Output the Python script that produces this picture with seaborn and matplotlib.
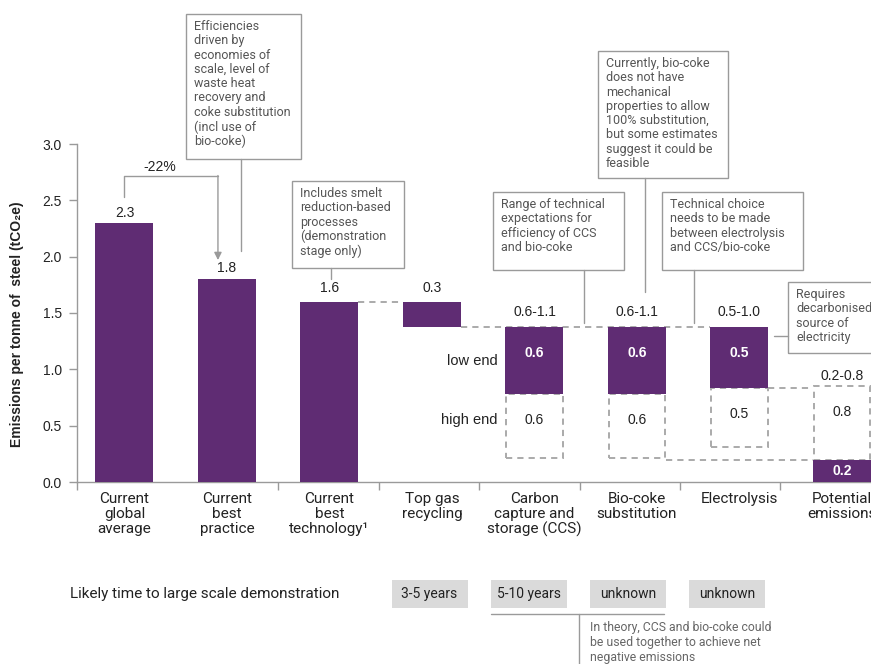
import matplotlib
matplotlib.use("Agg")
import matplotlib.pyplot as plt
from matplotlib.patches import Rectangle
from matplotlib.lines import Line2D
import pandas as pd
import seaborn as sns

# -----------------------------------------------------------
# data
# -----------------------------------------------------------
categories = ["Current\nglobal\naverage", "Current\nbest\npractice",
              "Current\nbest\ntechnology\u00b9", "Top gas\nrecycling",
              "Carbon\ncapture and\nstorage (CCS)", "Bio-coke\nsubstitution",
              "Electrolysis", "Potential\nemissions"]
bar_top = [2.3, 1.8, 1.6, 1.6, 1.375, 1.375, 1.375, 0.195]
bar_bottom = [0.0, 0.0, 0.0, 1.375, 0.78, 0.78, 0.83, 0.0]
top_labels = ["2.3", "1.8", "1.6", "0.3", "0.6-1.1", "0.6-1.1", "0.5-1.0", "0.2-0.8"]
inner_labels = ["", "", "", "", "0.6", "0.6", "0.5", "0.2"]

range_cats = categories[4:]
range_top = [0.78, 0.78, 0.83, 0.85]
range_bottom = [0.215, 0.215, 0.31, 0.195]
range_labels = ["0.6", "0.6", "0.5", "0.8"]

timeline_title = "Likely time to large scale demonstration"
timeline_labels = ["3-5 years", "5-10 years", "unknown", "unknown"]

# -----------------------------------------------------------
# style
# -----------------------------------------------------------
sns.set_theme(style="white")
plt.rcParams["font.family"] = ["Liberation Sans", "DejaVu Sans"]

PURPLE = "#5f2c73"
DASH = "#aaaaaa"
AXIS = "#9a9a9a"
TXT = "#222222"
NOTE = "#555555"
NARROW = ["Roboto", "DejaVu Sans"]
NOTEFONT = ["Roboto", "DejaVu Sans"]

W, H = 871, 664


def fx(x):
    return x / W


def fy(y):
    return 1 - y / H


fig = plt.figure(figsize=(W / 100, H / 100), dpi=100)
ax = fig.add_axes([fx(77), fy(482), fx(871) - fx(77), fy(144) - fy(482)])

BW = 0.566

# solid (purple) bars
solid = pd.DataFrame({"cat": categories,
                      "height": [t - b for t, b in zip(bar_top, bar_bottom)],
                      "bottom": bar_bottom})
sns.barplot(data=solid, x="cat", y="height", order=categories, color=PURPLE,
            saturation=1, width=BW, errorbar=None, bottom=solid["bottom"].values,
            edgecolor="none", linewidth=0, zorder=3, ax=ax)

# dashed range boxes
ranges = pd.DataFrame({"cat": range_cats,
                       "height": [t - b for t, b in zip(range_top, range_bottom)],
                       "bottom": range_bottom})
sns.barplot(data=ranges, x="cat", y="height", order=categories, fill=False,
            color=DASH, width=BW * 0.97, errorbar=None, bottom=ranges["bottom"].values,
            edgecolor=DASH, linewidth=1.4, linestyle=(0, (3.2, 2.6)), zorder=2, ax=ax)

# connector lines
dash_kw = dict(colors=DASH, linestyles=[(0, (3.2, 2.6))], linewidth=1.4, zorder=1)
ax.hlines(bar_top[2], 2 + BW / 2, 3 - BW / 2, **dash_kw)
ax.hlines(bar_bottom[3], 3 + BW / 2, 6 - BW / 2, **dash_kw)
ax.hlines(bar_bottom[6], 6 + BW / 2, 7 - BW / 2, **dash_kw)
ax.hlines(range_bottom[3], 5 + BW / 2, 7 - BW / 2, **dash_kw)

ax.set_xlim(-0.463, 7.283)
ax.set_ylim(0, 3.0)
ax.set_yticks([0, 0.5, 1.0, 1.5, 2.0, 2.5, 3.0])
ax.set_yticklabels([f"{v:.1f}" for v in ax.get_yticks()])
ax.set_xticks([-0.463, 1.5, 2.48, 3.46, 4.44, 5.42, 6.4])
ax.set_xticklabels([])
ax.set_xlabel("")
ax.set_ylabel("")
sns.despine(ax=ax)
for s in ["left", "bottom"]:
    ax.spines[s].set_color(AXIS)
    ax.spines[s].set_linewidth(1)
ax.tick_params(axis="y", length=6, width=1, color=AXIS, direction="out",
               pad=5, labelsize=10, labelcolor=TXT, left=True)
ax.tick_params(axis="x", length=6, width=1, color=AXIS, direction="out", bottom=True)

# category labels
for i, c in enumerate(categories):
    ax.text(i, -0.085, c, ha="center", va="top", fontsize=11, color=TXT,
            family=NARROW, linespacing=1.1, clip_on=False)

# value labels on top
offsets = [2, 3.3, 4.5, 4.5, 6, 6, 6, 2]
for i, lbl in enumerate(top_labels):
    top = bar_top[i]
    if categories[i] in range_cats:
        top = max(top, range_top[range_cats.index(categories[i])])
    ax.annotate(lbl, (i, top), xytext=(0, offsets[i]), textcoords="offset points",
                ha="center", va="bottom", fontsize=10, color=TXT, annotation_clip=False)

# labels inside the bars
for i, lbl in enumerate(inner_labels):
    if lbl:
        mid = (bar_top[i] + bar_bottom[i]) / 2
        ax.text(i, max(mid, bar_top[i] - 0.23), lbl, ha="center", va="center",
                fontsize=10, fontweight="bold", color="white", zorder=4, clip_on=False)
for j, lbl in enumerate(range_labels):
    i = categories.index(range_cats[j])
    mid = (range_top[j] + range_bottom[j]) / 2
    ax.text(i, max(mid, range_top[j] - 0.23), lbl, ha="center", va="center",
            fontsize=10, color=TXT, zorder=4)

# low end / high end
ax.text(4 - BW / 2 - 0.08, (bar_top[4] + bar_bottom[4]) / 2, "low end",
        ha="right", va="center", fontsize=10.5, color=TXT)
ax.text(4 - BW / 2 - 0.08, (range_top[0] + range_bottom[0]) / 2 + 0.05, "high end",
        ha="right", va="center", fontsize=10.5, color=TXT)

# -22% bracket
y_start = bar_top[0] + 0.23
y_br = bar_top[0] + 0.42
x_end = 0.912
ax.plot([0, 0, x_end], [y_start, y_br, y_br], color=AXIS, lw=1, clip_on=False)
ax.annotate("", xy=(x_end, bar_top[1] + 0.17), xytext=(x_end, y_br),
            arrowprops=dict(arrowstyle="-|>", color=AXIS, lw=1, shrinkA=0, shrinkB=0,
                            mutation_scale=11), annotation_clip=False)
ax.text(x_end * 0.38, y_br + 0.08, "-22%", ha="center", va="center", fontsize=10, color=TXT)

# y label
fig.text(fx(17), fy(324), "Emissions per tonne of  steel (tCO\u2082e)", rotation=90,
         ha="center", va="center", fontsize=10, fontweight="bold", color=TXT)

# -----------------------------------------------------------
# call-out boxes
# -----------------------------------------------------------
notes = [
    ("Efficiencies\ndriven by\neconomies of\nscale, level of\nwaste heat\nrecovery and\n"
     "coke substitution\n(incl use of\nbio-coke)", (186, 14, 301, 159), (241, 159, 241, 251)),
    ("Includes smelt\nreduction-based\nprocesses\n(demonstration\nstage only)",
     (292, 181, 404, 268), (331, 268, 331, 279)),
    ("Range of technical\nexpectations for\nefficiency of CCS\nand bio-coke",
     (493, 192, 624, 270), (584, 270, 584, 323)),
    ("Currently, bio-coke\ndoes not have\nmechanical\nproperties to allow\n100% substitution,\n"
     "but some estimates\nsuggest it could be\nfeasible", (598, 51, 728, 178), (645, 178, 645, 292)),
    ("Technical choice\nneeds to be made\nbetween electrolysis\nand CCS/bio-coke",
     (662, 192, 803, 270), (694, 270, 694, 323)),
    ("Requires\ndecarbonised\nsource of\nelectricity", (788, 282, 890, 353), (774, 336, 788, 336)),
]
for text, (x0, y0, x1, y1), (a, b, c, d) in notes:
    fig.add_artist(Rectangle((fx(x0), fy(y1)), fx(x1) - fx(x0), fy(y0) - fy(y1),
                             transform=fig.transFigure, fill=False, ec=AXIS, lw=1))
    fig.text(fx(x0 + 8), fy(y0 + 6), text, ha="left", va="top", fontsize=9,
             color=NOTE, family=NOTEFONT, linespacing=1.13)
    fig.add_artist(Line2D([fx(a), fx(c)], [fy(b), fy(d)], color=AXIS, lw=1,
                          transform=fig.transFigure))

# -----------------------------------------------------------
# timeline row
# -----------------------------------------------------------
fig.text(fx(70), fy(594), timeline_title, ha="left", va="center", fontsize=11,
         color=TXT, family=NARROW)
for k, lbl in enumerate(timeline_labels):
    cx = 429.5 + 99.3 * k
    fig.add_artist(Rectangle((fx(cx - 38), fy(608)), fx(76), fy(580) - fy(608),
                             transform=fig.transFigure, fc="#dadada", ec="none"))
    fig.text(fx(cx), fy(594), lbl, ha="center", va="center", fontsize=10,
             color=TXT, family=NARROW)

fig.add_artist(Line2D([fx(491), fx(664)], [fy(614), fy(614)], color=AXIS, lw=1,
                      transform=fig.transFigure))
fig.add_artist(Line2D([fx(579), fx(579)], [fy(614), fy(664)], color=AXIS, lw=1,
                      transform=fig.transFigure))
fig.text(fx(590), fy(621), "In theory, CCS and bio-coke could\nbe used together to achieve net\n"
         "negative emissions", ha="left", va="top", fontsize=8.8, color="#666666",
         family=NOTEFONT, linespacing=1.2)

fig.savefig("out.png", dpi=100)
